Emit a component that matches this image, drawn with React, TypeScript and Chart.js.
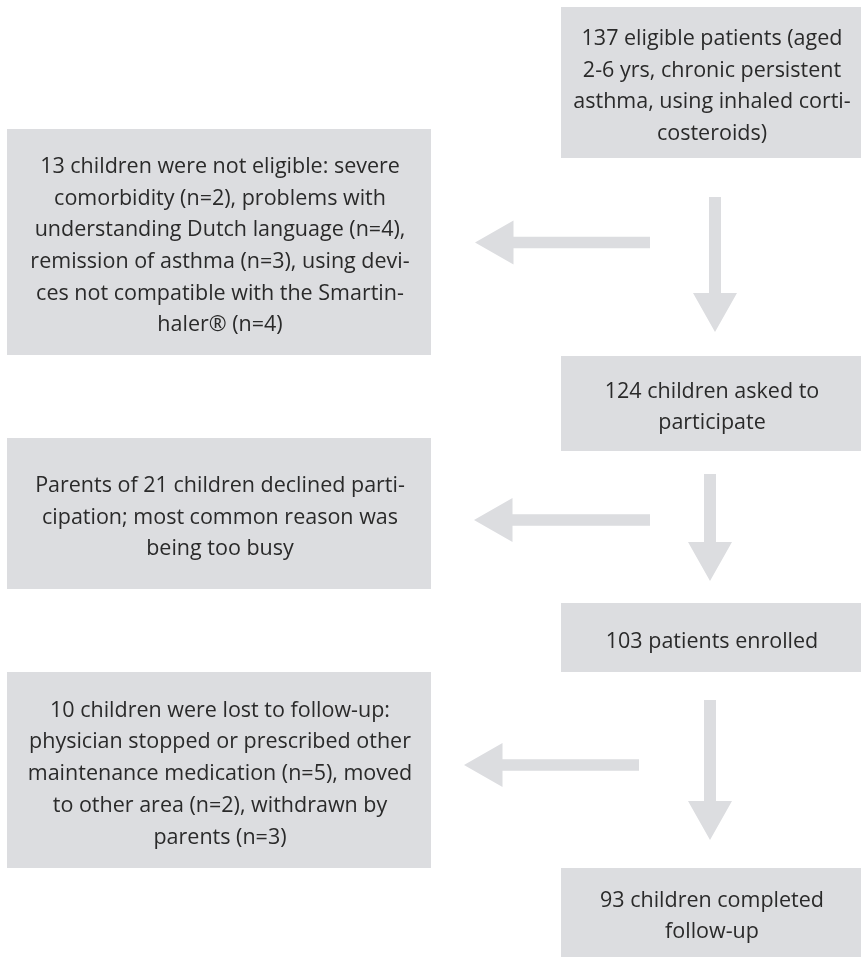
import React, { useEffect, useRef } from "react";
import { Chart, registerables } from "chart.js";

Chart.register(...registerables);

// ---- data ----
const stageCounts = [137, 124, 103, 93];
const excludedCounts = [13, 21, 10];

const stageLines = [
  [`${stageCounts[0]} eligible patients (aged`, "2-6 yrs, chronic persistent", "asthma, using inhaled corti-", "costeroids)"],
  [`${stageCounts[1]} children asked to`, "participate"],
  [`${stageCounts[2]} patients enrolled`],
  [`${stageCounts[3]} children completed`, "follow-up"],
];

const excludedLines = [
  [
    `${excludedCounts[0]} children were not eligible: severe`,
    "comorbidity (n=2), problems with",
    "understanding Dutch language (n=4),",
    "remission of asthma (n=3), using devi-",
    "ces not compatible with the Smartin-",
    "haler® (n=4)",
  ],
  [`Parents of ${excludedCounts[1]} children declined parti-`, "cipation; most common reason was", "being too busy"],
  [
    `${excludedCounts[2]} children were lost to follow-up:`,
    "physician stopped or prescribed other",
    "maintenance medication (n=5), moved",
    "to other area (n=2), withdrawn by",
    "parents (n=3)",
  ],
];

// ---- layout (diagram units) ----
const W = 861;
const H = 958;
const mainColumnX = [561, 861];
const sideColumnX = [7, 431];
const stageRowsY = [[7, 158], [356, 451], [603, 672], [868, 957]];
const excludedRowsY = [[129, 355], [438, 589], [672, 868]];
const downArrowX = [715, 710, 710];
const downArrowY = [[197, 332], [474, 581], [700, 840]];
const sideArrowY = [242.5, 520, 765];
const sideArrowX = [[650, 475], [650, 474], [639, 464]];

const BOX = "#dcdde0";
const TEXT = "#2a2a2a";
const FONT_SIZE = 21.5;
const FONT_FAMILY = "'Open Sans'";
const LINE_H = 31.7;

type P = { x: number; y: number };

const rect = (x: number[], y: number[]): P[] => [
  { x: x[0], y: y[0] },
  { x: x[1], y: y[0] },
  { x: x[1], y: y[1] },
  { x: x[0], y: y[1] },
];

const leftArrow = (x0: number, tip: number, y: number): P[] => {
  const sw = 5.75, hh = 22, hl = 38.5;
  const b = tip + hl;
  return [
    { x: x0, y: y - sw },
    { x: b, y: y - sw },
    { x: b, y: y - hh },
    { x: tip, y },
    { x: b, y: y + hh },
    { x: b, y: y + sw },
    { x: x0, y: y + sw },
  ];
};

const downArrow = (x: number, y0: number, tip: number): P[] => {
  const sw = 6, hw = 22, hl = 39;
  const b = tip - hl;
  return [
    { x: x - sw, y: y0 },
    { x: x + sw, y: y0 },
    { x: x + sw, y: b },
    { x: x + hw, y: b },
    { x, y: tip },
    { x: x - hw, y: b },
    { x: x - sw, y: b },
  ];
};

const shape = (data: P[]) => ({
  data,
  showLine: true,
  fill: "shape",
  backgroundColor: BOX,
  borderColor: "rgba(0,0,0,0)",
  borderWidth: 0,
  pointRadius: 0,
  pointHoverRadius: 0,
  tension: 0,
});

type Box = { x: number[]; y: number[]; lines: string[] };
const boxes: Box[] = [
  ...stageRowsY.map((y, i) => ({ x: mainColumnX, y, lines: stageLines[i] })),
  ...excludedRowsY.map((y, i) => ({ x: sideColumnX, y, lines: excludedLines[i] })),
];

const textPlugin = {
  id: "boxText",
  afterDatasetsDraw(chart: any) {
    const { ctx, scales } = chart;
    const sx = scales.x;
    const sy = scales.y;
    ctx.save();
    ctx.fillStyle = TEXT;
    ctx.font = `${FONT_SIZE}px ${FONT_FAMILY}`;
    ctx.textAlign = "center";
    ctx.textBaseline = "middle";
    for (const b of boxes) {
      const cx = (sx.getPixelForValue(b.x[0]) + sx.getPixelForValue(b.x[1])) / 2 + 1;
      const cy = (sy.getPixelForValue(b.y[0]) + sy.getPixelForValue(b.y[1])) / 2 + 4;
      const n = b.lines.length;
      b.lines.forEach((t, i) => {
        ctx.fillText(t, cx, cy + (i - (n - 1) / 2) * LINE_H);
      });
    }
    ctx.restore();
  },
};

export default function App() {
  const ref = useRef<HTMLCanvasElement | null>(null);
  useEffect(() => {
    if (!ref.current) return;
    const datasets = [
      ...boxes.map((b) => shape(rect(b.x, b.y))),
      ...sideArrowY.map((y, i) => shape(leftArrow(sideArrowX[i][0], sideArrowX[i][1], y))),
      ...downArrowX.map((x, i) => shape(downArrow(x, downArrowY[i][0], downArrowY[i][1]))),
    ];
    const chart = new Chart(ref.current, {
      type: "scatter",
      data: { datasets: datasets as any },
      options: {
        animation: false,
        responsive: false,
        events: [],
        layout: { padding: 0 },
        scales: {
          x: { type: "linear", min: 0, max: W, display: false },
          y: { type: "linear", min: 0, max: H, reverse: true, display: false },
        },
        plugins: { legend: { display: false }, tooltip: { enabled: false } },
      },
      plugins: [textPlugin],
    });
    return () => chart.destroy();
  }, []);
  return (
    <div style={{ position: "absolute", left: 0, top: 0, width: W, height: H, background: "#fff" }}>
      <canvas ref={ref} width={W} height={H} style={{ display: "block" }} />
    </div>
  );
}
